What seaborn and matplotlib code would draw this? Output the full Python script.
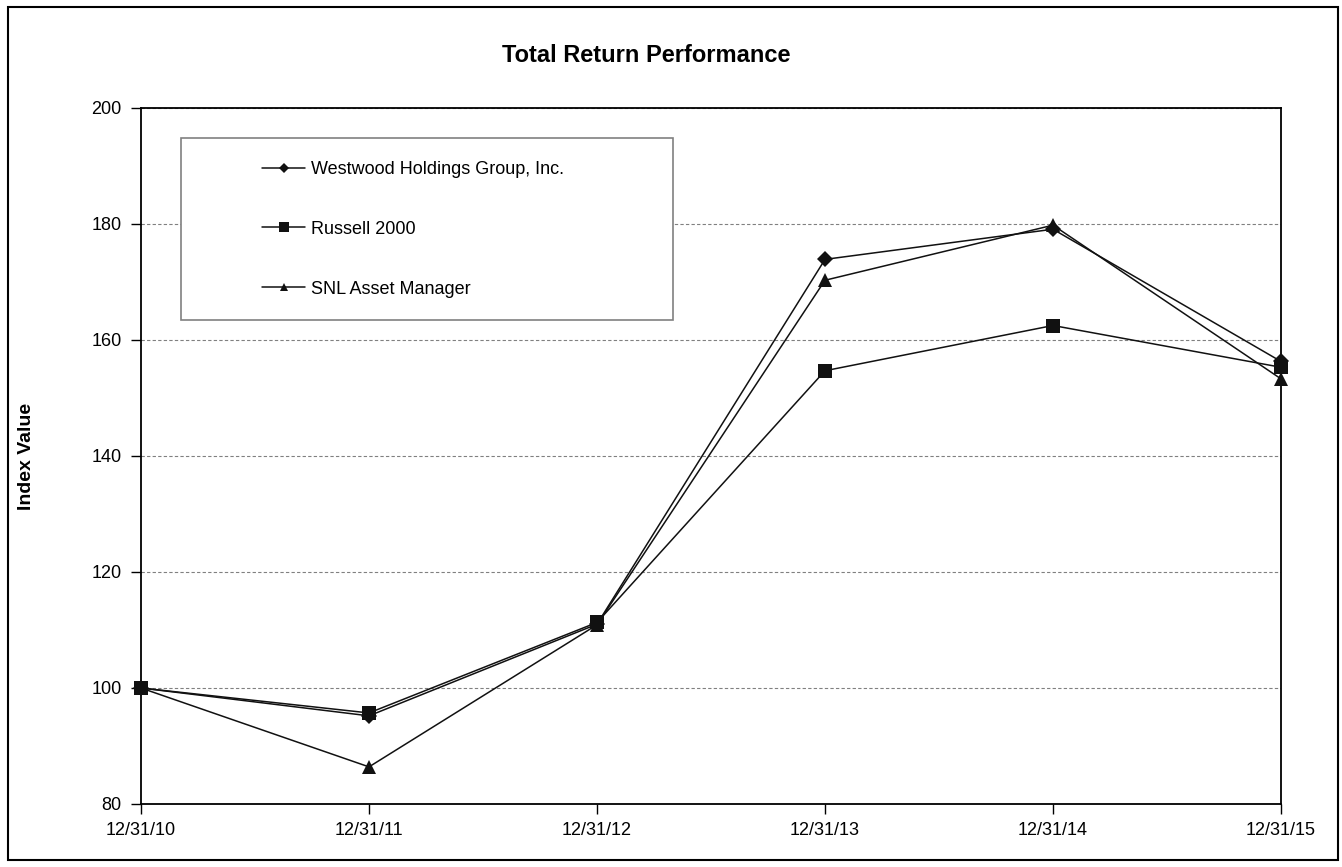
import matplotlib
matplotlib.use("Agg")
import matplotlib.pyplot as plt
from matplotlib.patches import Rectangle
from matplotlib.lines import Line2D
import seaborn as sns
import pandas as pd

dates = ["12/31/10", "12/31/11", "12/31/12", "12/31/13", "12/31/14", "12/31/15"]
westwood = [100.0, 95.2, 111.0, 173.9, 179.1, 156.3]
russell = [100.0, 95.7, 111.3, 154.7, 162.5, 155.3]
snl = [100.0, 86.4, 110.9, 170.3, 179.8, 153.3]
series_names = ["Westwood Holdings Group, Inc.", "Russell 2000", "SNL Asset Manager"]
yticks = [80, 100, 120, 140, 160, 180, 200]

rows = []
for name, vals in zip(series_names, [westwood, russell, snl]):
    for i, v in enumerate(vals):
        rows.append({"pos": i, "date": dates[i], "value": v, "series": name})
df = pd.DataFrame(rows)

sns.set_theme(style="white")
plt.rcParams["font.family"] = ["Liberation Sans", "DejaVu Sans"]
plt.rcParams["text.color"] = "black"
plt.rcParams["axes.labelcolor"] = "black"
plt.rcParams["xtick.color"] = "black"
plt.rcParams["ytick.color"] = "black"

fig = plt.figure(figsize=(13.42, 8.67), dpi=100)
ax = fig.add_axes([141/1342, 1-804/867, 1140/1342, 696/867])

markers = {series_names[0]: "D", series_names[1]: "s", series_names[2]: "^"}
msizes = {series_names[0]: 8, series_names[1]: 10, series_names[2]: 10}
for name in series_names:
    sub = df[df["series"] == name]
    sns.lineplot(data=sub, x="pos", y="value", ax=ax, color="#111111",
                 marker=markers[name], markersize=msizes[name], linewidth=1.1,
                 markeredgewidth=0, label=name, zorder=3, clip_on=False,
                 legend=False)

ax.set_xlim(0, len(dates)-1)
ax.set_ylim(80, 200)
ax.set_xticks(range(len(dates)))
ax.set_xticklabels(dates)
ax.set_yticks(yticks)
ax.tick_params(axis="both", labelsize=13, colors="black", labelcolor="black",
               direction="out", length=7, width=1, bottom=True, left=True)
ax.tick_params(axis="x", pad=6)
ax.tick_params(axis="y", pad=7)
ax.set_axisbelow(True)
ax.yaxis.grid(True, linestyle=(0, (3, 2)), color="#808080", linewidth=0.8)
ax.xaxis.grid(False)
for sp in ax.spines.values():
    sp.set_color("black")
    sp.set_linewidth(1.3)
    sp.set_visible(True)
ax.set_xlabel("")
ax.set_ylabel("Index Value", fontsize=14, fontweight="bold", color="black")
ax.yaxis.set_label_coords(-0.093, 0.5)

# legend frame
ax.add_patch(Rectangle((40/1140, (804-320)/696), 492/1140, 182/696,
                       transform=ax.transAxes, facecolor="white",
                       edgecolor="#808080", linewidth=1.2, zorder=1.5))
handles = [Line2D([], [], color="#111111", lw=1.1, marker="D", markersize=5, markeredgewidth=0),
           Line2D([], [], color="#111111", lw=1.1, marker="s", markersize=7, markeredgewidth=0),
           Line2D([], [], color="#111111", lw=1.1, marker="^", markersize=6, markeredgewidth=0)]
leg = ax.legend(handles, series_names, loc="upper left",
                bbox_to_anchor=(121/1140, (804-161)/696), borderaxespad=0,
                borderpad=0, frameon=False, fontsize=13, labelspacing=2.37,
                handlelength=2.4, handletextpad=0.3)
for t in leg.get_texts():
    t.set_color("black")
leg.set_zorder(4)

fig.text(646/1342, 1-55/867, "Total Return Performance", fontsize=17,
         fontweight="bold", ha="center", va="center", color="black")

fig.patches.append(Rectangle((8/1342, 7/867), 1330/1342, 853/867,
                             transform=fig.transFigure, fill=False,
                             edgecolor="black", linewidth=1.5))

fig.savefig("out.png", dpi=100)
